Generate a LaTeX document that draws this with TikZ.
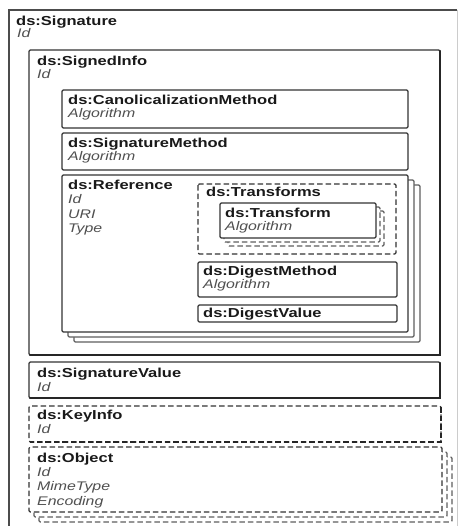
\documentclass[tikz,border=0pt]{standalone}
\usepackage{fontspec}
\newfontfamily\elfont{Liberation Sans}[FakeStretch=1.27]
\definecolor{edge}{HTML}{333333}
\definecolor{backedge}{HTML}{5E5E5E}
\definecolor{attrtext}{HTML}{505050}
\tikzset{
  ttl/.style={anchor=base west, inner sep=0pt, text=black!90,
    font=\elfont\bfseries\fontsize{13bp}{14bp}\selectfont},
  att/.style={anchor=base west, inner sep=0pt, text=attrtext,
    font=\elfont\itshape\fontsize{12.5bp}{14bp}\selectfont},
  boxline/.style={draw=edge, line width=1.2bp, fill=white, rounded corners=1.2bp},
  backline/.style={draw=backedge, line width=1.2bp, fill=white, rounded corners=1.2bp},
  optline/.style={boxline, dash pattern=on 5.5bp off 3bp},
  optback/.style={backline, dash pattern=on 5.5bp off 3bp},
  heavy/.style={draw=black!85, line width=2.2bp, line cap=round},
}
\begin{document}
\begin{tikzpicture}[x=1bp, y=-1bp]
\useasboundingbox (0,0) rectangle (459,526);
\clip (0,0) rectangle (459,526);

% ds:Signature (outer element)
\draw[draw=black!70, line width=1.2bp] (9,530) |- (457,10);
\draw[draw=black!20, line width=1bp] (457,10) -- (457,530);
\node[ttl] (sig) at (16,26) {ds:Signature};
\node[att] (sigid) at (17,38) {Id};

% ds:SignedInfo
\draw[boxline] (29,50) rectangle (440,355);
\draw[heavy] (440,51) -- (440,355) -- (30,355);
\node[ttl] (si) at (37,66) {ds:SignedInfo};
\node[att] (siid) at (37,79) {Id};

% ds:CanolicalizationMethod
\draw[boxline] (62,90) rectangle (408,128);
\node[ttl] (cm) at (68,105) {ds:CanolicalizationMethod};
\node[att] (cmalg) at (68,118) {Algorithm};

% ds:SignatureMethod
\draw[boxline] (62,133) rectangle (408,170);
\node[ttl] (sm) at (68,148) {ds:SignatureMethod};
\node[att] (smalg) at (68,161) {Algorithm};

% ds:Reference (repeating, stacked)
\draw[backline] (74,185) rectangle (420,342);
\draw[backline] (68,180) rectangle (414,337);
\draw[boxline] (62,175) rectangle (408,332);
\node[ttl] (ref) at (68,190) {ds:Reference};
\node[att] (refid) at (68,204) {Id};
\node[att] (refuri) at (68,218) {URI};
\node[att] (reftype) at (68,232) {Type};

% ds:Transforms (optional)
\draw[optline] (198,184) rectangle (396,254);
\node[ttl] (tfs) at (206,197) {ds:Transforms};

% ds:Transform (repeating, stacked)
\draw[optback] (228,211) rectangle (384,246);
\draw[optback] (224,207) rectangle (380,242);
\draw[boxline] (220,203) rectangle (376,238);
\node[ttl] (tf) at (225,217) {ds:Transform};
\node[att] (tfalg) at (225,230) {Algorithm};

% ds:DigestMethod
\draw[boxline] (198,262) rectangle (397,297);
\node[ttl] (dm) at (203,275) {ds:DigestMethod};
\node[att] (dmalg) at (203,288) {Algorithm};

% ds:DigestValue
\draw[boxline] (198,305) rectangle (397,322);
\node[ttl] (dv) at (203,317) {ds:DigestValue};

% ds:SignatureValue
\draw[boxline] (29,362) rectangle (440,398);
\draw[heavy] (440,363) -- (440,398) -- (30,398);
\node[ttl] (sv) at (37,377) {ds:SignatureValue};
\node[att] (svid) at (37,391) {Id};

% ds:KeyInfo (optional)
\draw[optline] (29,406) rectangle (441,442);
\draw[draw=black!85, line width=1.8bp, dash pattern=on 5.5bp off 3bp] (441,407) -- (441,442) -- (30,442);
\node[ttl] (ki) at (37,419) {ds:KeyInfo};
\node[att] (kiid) at (37,433) {Id};

% ds:Object (optional, repeating)
\draw[optback] (39,457) rectangle (452,522);
\draw[optback] (34,452) rectangle (447,517);
\draw[optline] (29,447) rectangle (442,512);
\node[ttl] (obj) at (37,462) {ds:Object};
\node[att] (objid) at (37,476) {Id};
\node[att] (objmime) at (37,490) {MimeType};
\node[att] (objenc) at (37,505) {Encoding};
\end{tikzpicture}
\end{document}
